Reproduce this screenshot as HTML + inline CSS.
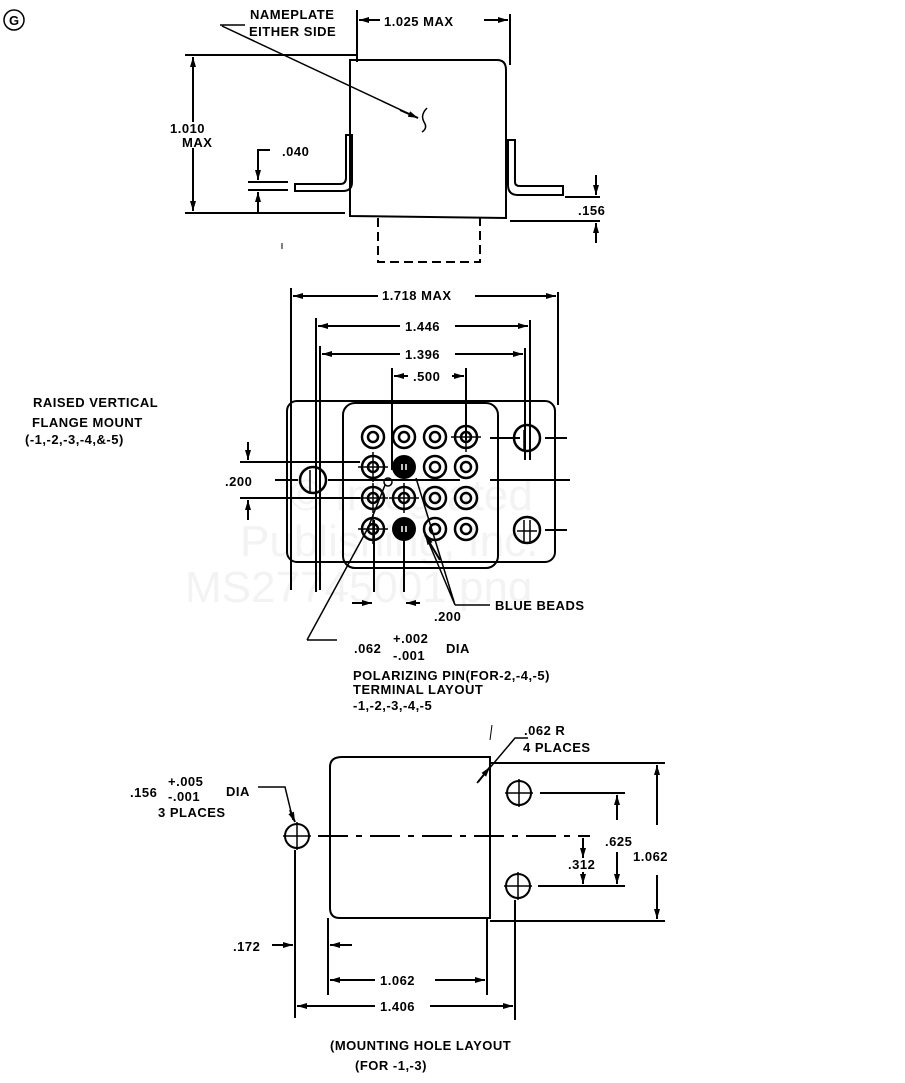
<!DOCTYPE html>
<html><head><meta charset="utf-8"><style>
html,body{margin:0;padding:0;background:#fff}
svg{display:block}
text{font-family:"Liberation Sans",sans-serif;font-weight:bold;font-size:13px;fill:#000;letter-spacing:0.5px}
.w{font-family:"Liberation Sans",sans-serif;font-weight:normal;font-size:44px;fill:#f3f3f3;letter-spacing:0}
</style></head><body>
<svg width="905" height="1083" viewBox="0 0 905 1083" xmlns="http://www.w3.org/2000/svg">
<defs>
<marker id="a" viewBox="0 0 10 6" refX="10" refY="3" markerWidth="10" markerHeight="6" orient="auto-start-reverse" markerUnits="userSpaceOnUse"><path d="M0,0L10,3L0,6z" fill="#000"/></marker>
</defs>
<text class="w" x="290" y="510">© Integrated</text>
<text class="w" x="240" y="556">Publishing, Inc.</text>
<text class="w" x="185" y="602">MS27745001.png</text>

<g stroke="#000" stroke-width="2" fill="none">
<circle cx="14" cy="20" r="10" stroke-width="1.5"/>
<path d="M350,216 V60 H497 Q506,60 506,70 V218 Z"/>
<path d="M352,135 H346 V178 Q346,184 340,184 H295 V191 H343 Q352,191 352,182 Z"/>
<path d="M508,140 H515 V182 Q515,186 520,186 H563 V195 H518 Q508,195 508,185 Z"/>
<path d="M378,218 V262 H480 V218" stroke-dasharray="9,5"/>
<path d="M185,55 H357 M185,213 H345 M357,10 V62 M510,14 V65 M510,221 H600 M565,197 H600"/>
<path d="M193,122 V57" marker-end="url(#a)"/><path d="M193,148 V211" marker-end="url(#a)"/>
<path d="M270,150 H258 V180" marker-end="url(#a)"/><path d="M258,213 V192" marker-end="url(#a)"/>
<path d="M248,182 H288 M248,190 H288 M295,213 H345"/>
<path d="M380,20 H359" marker-end="url(#a)"/><path d="M484,20 H508" marker-end="url(#a)"/>
<path d="M596,175 V195" marker-end="url(#a)"/><path d="M596,243 V223" marker-end="url(#a)"/>
<path d="M220,25 H245 M222,26 L418,118" stroke-width="1.5"/><path d="M400,110 L418,118" marker-end="url(#a)"/>
<path d="M427,108 Q420,115 424,122 Q428,128 422,132" stroke-width="1.5"/>
<path d="M282,243 V249" stroke-width="1"/>

<rect x="287" y="401" width="268" height="161" rx="10"/>
<rect x="343" y="403" width="155" height="165" rx="12"/>
<path d="M291,288 V590 M316,318 V592 M320,346 V590 M558,292 V405 M530,320 V460 M525,348 V460 M392,368 V470 M466,368 V440"/>
<path d="M378,296 H293" marker-end="url(#a)"/><path d="M475,296 H556" marker-end="url(#a)"/>
<path d="M400,326 H318" marker-end="url(#a)"/><path d="M455,326 H528" marker-end="url(#a)"/>
<path d="M400,354 H322" marker-end="url(#a)"/><path d="M455,354 H523" marker-end="url(#a)"/>
<path d="M408,376 H394" marker-end="url(#a)"/><path d="M452,376 H464" marker-end="url(#a)"/>
<path d="M240,462 H360 M240,498 H360 M337,480 H460 M490,480 H570 M520,438 H490 M545,438 H567 M545,530 H567"/>
<path d="M248,442 V460" marker-end="url(#a)"/><path d="M248,520 V500" marker-end="url(#a)"/>
<path d="M275,480 H298 M328,480 H340"/>
<path d="M374,520 V592 M404,540 V592"/>
<path d="M352,603 H372" marker-end="url(#a)"/><path d="M420,603 H406" marker-end="url(#a)"/>
<path d="M455,605 H490 M455,605 L416,478 M455,605 L426,536" stroke-width="1.5"/>
<path d="M440,560 L425,535" marker-end="url(#a)"/>
<path d="M307,640 H337 M307,640 L368,528 M368,528 L385,485" stroke-width="1.5"/>
</g>
<g stroke="#000" stroke-width="2.5" fill="none">
<circle cx="373" cy="437" r="11"/><circle cx="373" cy="437" r="5"/>
<circle cx="404" cy="437" r="11"/><circle cx="404" cy="437" r="5"/>
<circle cx="435" cy="437" r="11"/><circle cx="435" cy="437" r="5"/>
<circle cx="466" cy="437" r="11"/><circle cx="466" cy="437" r="5"/>
<circle cx="373" cy="467" r="11"/><circle cx="373" cy="467" r="5"/>
<circle cx="435" cy="467" r="11"/><circle cx="435" cy="467" r="5"/>
<circle cx="466" cy="467" r="11"/><circle cx="466" cy="467" r="5"/>
<circle cx="373" cy="498" r="11"/><circle cx="373" cy="498" r="5"/>
<circle cx="404" cy="498" r="11"/><circle cx="404" cy="498" r="5"/>
<circle cx="435" cy="498" r="11"/><circle cx="435" cy="498" r="5"/>
<circle cx="466" cy="498" r="11"/><circle cx="466" cy="498" r="5"/>
<circle cx="373" cy="529" r="11"/><circle cx="373" cy="529" r="5"/>
<circle cx="435" cy="529" r="11"/><circle cx="435" cy="529" r="5"/>
<circle cx="466" cy="529" r="11"/><circle cx="466" cy="529" r="5"/>
<circle cx="388" cy="482" r="4" stroke-width="1.5"/>
<circle cx="313" cy="480" r="13"/><circle cx="527" cy="438" r="13"/><circle cx="527" cy="530" r="13"/>
</g>
<circle cx="404" cy="467" r="12" fill="#000"/><circle cx="404" cy="529" r="12" fill="#000"/>
<g stroke="#000" stroke-width="1.5">
<path d="M358,467 H388 M373,452 V482 M358,498 H388 M373,483 V513 M358,529 H388 M373,514 V544 M389,498 H419 M404,483 V513 M466,422 V452 M451,437 H481"/>
<path d="M310,470 V492 M316,470 V492 M524,430 V450 M530,430 V450 M524,520 V542 M530,520 V542 M517,531 H537"/>
<path d="M402,464 V470 M406,464 V470 M402,526 V532 M406,526 V532" stroke="#fff"/>
</g>

<g stroke="#000" stroke-width="2" fill="none">
<path d="M342,757 H490 V918 H340 Q330,918 330,908 V767 Q330,757 342,757 Z"/>
<circle cx="297" cy="836" r="12"/><circle cx="519" cy="793" r="12"/><circle cx="518" cy="886" r="12"/>
<path d="M283,836 H311 M297,822 V850 M505,793 H533 M519,779 V807 M504,886 H532 M518,872 V900" stroke-width="1.5"/>
<path d="M318,836 H590" stroke-dasharray="30,8,6,8"/>
<path d="M490,763 H665 M490,921 H665 M540,793 H625 M538,886 H625"/>
<path d="M657,825 V765" marker-end="url(#a)"/><path d="M657,875 V919" marker-end="url(#a)"/>
<path d="M617,820 V795" marker-end="url(#a)"/><path d="M617,852 V884" marker-end="url(#a)"/>
<path d="M583,838 V858" marker-end="url(#a)"/><path d="M583,872 V884" marker-end="url(#a)"/>
<path d="M295,850 V1018 M328,918 V995 M487,918 V995 M515,900 V1020"/>
<path d="M272,945 H293" marker-end="url(#a)"/><path d="M352,945 H330" marker-end="url(#a)"/>
<path d="M375,980 H330" marker-end="url(#a)"/><path d="M435,980 H485" marker-end="url(#a)"/>
<path d="M375,1006 H297" marker-end="url(#a)"/><path d="M430,1006 H513" marker-end="url(#a)"/>
<path d="M258,787 H285 L293,820" stroke-width="1.5"/><path d="M290,810 L295,822" marker-end="url(#a)"/>
<path d="M528,738 H515 L477,783" stroke-width="1.5"/><path d="M478,782 L490,767" marker-end="url(#a)"/>
<path d="M492,725 L490,740" stroke-width="1"/>
</g>

<text x="9" y="25" font-size="11">G</text>
<text x="250" y="19" font-size="12">NAMEPLATE</text>
<text x="249" y="36" font-size="12">EITHER SIDE</text>
<text x="384" y="26" font-size="14">1.025 MAX</text>
<text x="170" y="133" font-size="13">1.010</text>
<text x="182" y="147" font-size="13">MAX</text>
<text x="282" y="156" font-size="13">.040</text>
<text x="578" y="215" font-size="13">.156</text>
<text x="382" y="300" font-size="13">1.718 MAX</text>
<text x="405" y="331" font-size="13">1.446</text>
<text x="405" y="359" font-size="13">1.396</text>
<text x="413" y="381" font-size="13">.500</text>
<text x="225" y="486" font-size="13">.200</text>
<text x="33" y="407" font-size="13">RAISED VERTICAL</text>
<text x="32" y="427" font-size="13">FLANGE MOUNT</text>
<text x="25" y="444" font-size="13">(-1,-2,-3,-4,&amp;-5)</text>
<text x="495" y="610" font-size="13">BLUE BEADS</text>
<text x="434" y="621" font-size="13">.200</text>
<text x="354" y="653" font-size="13">.062</text>
<text x="393" y="643" font-size="13">+.002</text>
<text x="393" y="660" font-size="13">-.001</text>
<text x="446" y="653" font-size="13">DIA</text>
<text x="353" y="680" font-size="12">POLARIZING PIN(FOR-2,-4,-5)</text>
<text x="353" y="694" font-size="12">TERMINAL LAYOUT</text>
<text x="353" y="710" font-size="12">-1,-2,-3,-4,-5</text>
<text x="524" y="735" font-size="12">.062 R</text>
<text x="523" y="752" font-size="12">4 PLACES</text>
<text x="130" y="797" font-size="13">.156</text>
<text x="168" y="786" font-size="13">+.005</text>
<text x="168" y="801" font-size="13">-.001</text>
<text x="226" y="796" font-size="13">DIA</text>
<text x="158" y="817" font-size="13">3 PLACES</text>
<text x="605" y="846" font-size="13">.625</text>
<text x="568" y="869" font-size="13">.312</text>
<text x="633" y="861" font-size="13">1.062</text>
<text x="233" y="951" font-size="13">.172</text>
<text x="380" y="985" font-size="13">1.062</text>
<text x="380" y="1011" font-size="13">1.406</text>
<text x="330" y="1050" font-size="12">(MOUNTING HOLE LAYOUT</text>
<text x="355" y="1070" font-size="12">(FOR -1,-3)</text>
</svg>
</body></html>
